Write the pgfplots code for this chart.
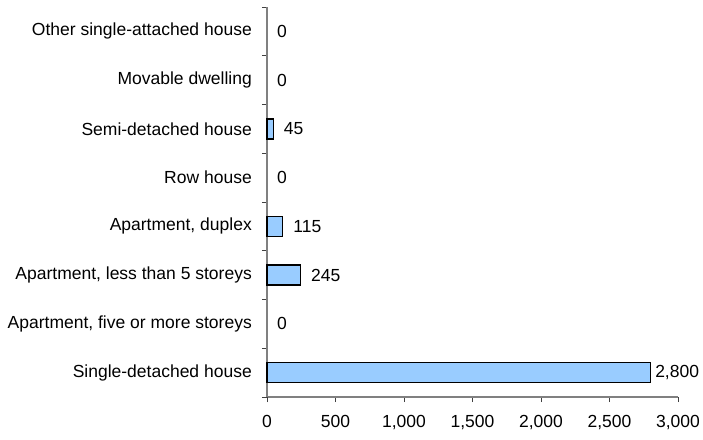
\documentclass[border=0pt]{standalone}
\usepackage{fontspec}
\setmainfont{Liberation Sans}
\usepackage{pgfplots}
\pgfplotsset{compat=1.18}
\definecolor{barblue}{HTML}{99CCFF}
\definecolor{axgray}{HTML}{808080}

\begin{document}
\begin{tikzpicture}[font=\fontsize{17.5}{20}\selectfont]
\begin{axis}[
    scale only axis,
    width=411pt, height=390pt,
    clip=false,
    xbar, bar width=20pt, bar shift=0pt,
    xmin=0, xmax=3000,
    ymin=-0.5, ymax=7.5,
    axis lines*=left,
    axis line style={draw=axgray, line width=1.2pt},
    xtick={0,500,...,3000},
    extra x ticks={0},
    extra x tick labels={},
    extra x tick style={grid=major, major grid style={draw=axgray, line width=1.2pt}},
    % ticks sit between the categories, the names are moved up by half a step
    ytick={-0.5,0.5,...,7.5},
    yticklabels={Single-detached house,
                 {Apartment, five or more storeys},
                 {Apartment, less than 5 storeys},
                 {Apartment, duplex},
                 Row house,
                 Semi-detached house,
                 Movable dwelling,
                 Other single-attached house, {}},
    tick align=outside,
    major tick length=5pt,
    tick style={black!75, line width=0.8pt},
    yticklabel style={inner sep=0pt, xshift=-10pt, yshift=24.375pt},
    xticklabel style={inner sep=0pt, yshift=-13pt},
    /pgf/number format/.cd, 1000 sep={,}, assume math mode=true,
    /pgfplots/.cd,
    point meta=x,
    nodes near coords,
    every node near coord/.append style={anchor=west, inner sep=0pt, xshift=10pt, black},
]
\draw[axgray, line width=1.2pt] (rel axis cs:0,0) -- (rel axis cs:0,1);
\addplot[draw=black, line width=1.3pt, fill=barblue,
    every node near coord/.append style={xshift=-6pt}]
    coordinates {(2800,0)};
\addplot[draw=black, line width=1.3pt, fill=barblue]
    coordinates {(245,2) (115,3) (45,5)};
\addplot[draw=none, fill=none]
    coordinates {(0,1) (0,4) (0,6) (0,7)};
\coordinate (O) at (rel axis cs:0,0);
\end{axis}
\pgfresetboundingbox
\path (O) ++(-267pt,-42pt) rectangle ++(703pt,439pt);
\end{tikzpicture}
\end{document}
